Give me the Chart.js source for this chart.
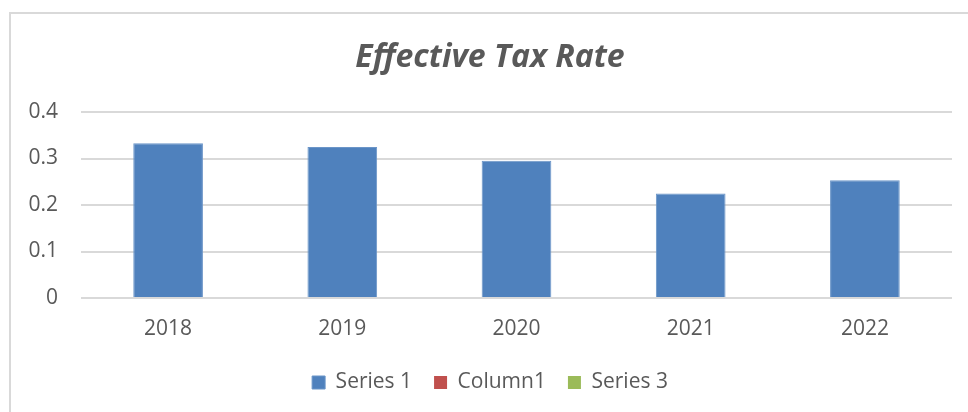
<!DOCTYPE html>
<html>
<head>
<meta charset="utf-8">
<script src="https://cdn.jsdelivr.net/npm/chart.js@4.4.0/dist/chart.umd.min.js"></script>
<style>
  html, body { margin: 0; padding: 0; background: #fff; overflow: hidden; }
  #wrap { position: relative; width: 968px; height: 412px; }
  #frame {
    position: absolute; left: 9px; top: 12px; width: 1000px; height: 420px;
    border-left: 2px solid #d9d9d9; border-top: 2px solid #d9d9d9;
    pointer-events: none;
  }
</style>
</head>
<body>
<div id="wrap">
  <canvas id="chart" width="968" height="412"></canvas>
  <div id="frame"></div>
</div>
<script>
const years = ['2018', '2019', '2020', '2021', '2022']
const series1 = [0.333, 0.325, 0.295, 0.225, 0.253]
const column1 = [null, null, null, null, null]
const series3 = [null, null, null, null, null]
const yTicks = [0, 0.1, 0.2, 0.3, 0.4]

const textColor = '#595959'
const tickFont = { family: '"Open Sans", sans-serif', size: 21 }

function build () {
  const ctx = document.getElementById('chart').getContext('2d')

  const chart = new Chart(ctx, {
    type: 'bar',
    data: {
      labels: years,
      datasets: [
        { label: 'Series 1', data: series1, backgroundColor: '#4f81bd', borderColor: '#6b95c8', borderWidth: 1 },
        { label: 'Column1', data: column1, backgroundColor: '#c0504d' },
        { label: 'Series 3', data: series3, backgroundColor: '#9bbb59' }
      ]
    },
    options: {
      responsive: false,
      animation: false,
      layout: {
        padding: { left: 28, right: 16, top: 0, bottom: 9 }
      },
      datasets: {
        bar: {
          grouped: false,
          categoryPercentage: 1,
          barPercentage: 0.4
        }
      },
      scales: {
        x: {
          afterFit: function (scale) { scale.height = 52 },
          grid: { display: false, drawTicks: false },
          border: { display: false },
          ticks: { color: textColor, font: tickFont, padding: 18 }
        },
        y: {
          min: 0,
          max: 0.4,
          afterFit: function (scale) { scale.width = 53 },
          afterBuildTicks: function (scale) {
            scale.ticks = yTicks.map(v => ({ value: v }))
          },
          grid: { color: '#d9d9d9', lineWidth: 2, drawTicks: false },
          border: { display: false },
          ticks: {
            color: textColor,
            font: tickFont,
            padding: 23,
            callback: function (value) { return String(value) }
          }
        }
      },
      plugins: {
        title: {
          display: true,
          text: 'Effective Tax Rate',
          color: textColor,
          font: { family: '"Open Sans", sans-serif', size: 32, weight: 'bold', style: 'italic' },
          padding: { top: 38.8, bottom: 34.8 }
        },
        legend: {
          position: 'bottom',
          labels: {
            color: textColor,
            font: tickFont,
            boxWidth: 13,
            boxHeight: 13,
            padding: 22
          }
        },
        tooltip: { enabled: false }
      }
    }
  })
}

build()
</script>
</body>
</html>
